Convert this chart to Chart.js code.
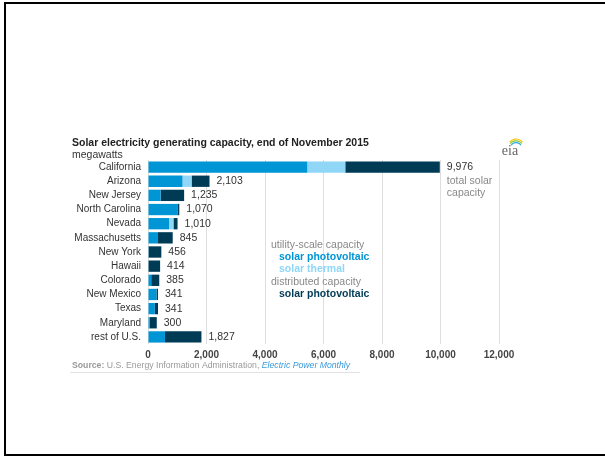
<!DOCTYPE html>
<html>
<head>
<meta charset="utf-8">
<script src="https://cdn.jsdelivr.net/npm/chart.js@4"></script>
<style>
  html, body { margin: 0; padding: 0; background: #fff; }
  #wrap { position: relative; width: 605px; height: 457px; }
</style>
</head>
<body>
<div id="wrap"><canvas id="solarChart" width="605" height="457"></canvas></div>
<script>
// data (megawatts)
const states = ["California", "Arizona", "New Jersey", "North Carolina", "Nevada", "Massachusetts",
  "New York", "Hawaii", "Colorado", "New Mexico", "Texas", "Maryland", "rest of U.S."];
const utilityPV = [5445, 1180, 433, 1005, 720, 320, 25, 20, 110, 290, 235, 60, 580];
const utilityThermal = [1300, 310, 0, 0, 150, 0, 0, 0, 0, 0, 0, 0, 0];
const distributedPV = [3231, 613, 802, 65, 140, 525, 431, 394, 275, 51, 106, 240, 1247];
const totalLabels = ["9,976", "2,103", "1,235", "1,070", "1,010", "845", "456", "414", "385", "341", "341", "300", "1,827"];
const xTicks = [0, 2000, 4000, 6000, 8000, 10000, 12000];

const FONT = "'Liberation Sans', Arial, sans-serif";

// text around the chart
const extras = {
  id: "extras",
  beforeDraw(chart) {
    const c = chart.ctx;
    c.save();
    c.fillStyle = "#fff";
    c.fillRect(0, 0, chart.width, chart.height);
    // frame
    c.fillStyle = "#000";
    c.fillRect(4, 2, 601, 2);
    c.fillRect(4, 2, 2, 454);
    c.fillRect(4, 454, 601, 2);
    c.restore();
  },
  afterDatasetsDraw(chart) {
    const c = chart.ctx;
    const xs = chart.scales.x, ys = chart.scales.y;
    c.save();
    c.textBaseline = "middle";
    c.textAlign = "left";

    // totals
    c.font = "10.5px " + FONT;
    c.fillStyle = "#333";
    states.forEach((s, i) => {
      const tot = utilityPV[i] + utilityThermal[i] + distributedPV[i];
      c.fillText(totalLabels[i], xs.getPixelForValue(tot) + 7, ys.getPixelForValue(i));
    });
    const calX = xs.getPixelForValue(utilityPV[0] + utilityThermal[0] + distributedPV[0]) + 7;
    c.fillStyle = "#888";
    c.fillText("total solar", calX, 181);
    c.fillText("capacity", calX, 193);

    // title
    c.fillStyle = "#222";
    c.font = "bold 10.5px " + FONT;
    c.fillText("Solar electricity generating capacity, end of November 2015", 72, 143);
    c.font = "10.5px " + FONT;
    c.fillStyle = "#333";
    c.fillText("megawatts", 72, 155);

    // legend
    c.font = "10.5px " + FONT;
    c.fillStyle = "#888";
    c.fillText("utility-scale capacity", 271, 245);
    c.fillText("distributed capacity", 271, 282);
    c.font = "bold 10.5px " + FONT;
    c.fillStyle = "#0096d6";
    c.fillText("solar photovoltaic", 279, 257);
    c.fillStyle = "#8fd6f7";
    c.fillText("solar thermal", 279, 269);
    c.fillStyle = "#003b56";
    c.fillText("solar photovoltaic", 279, 294);

    // source
    c.font = "bold 8.7px " + FONT;
    c.fillStyle = "#999";
    c.fillText("Source:", 72, 366);
    let x = 72 + c.measureText("Source: ").width;
    c.font = "8.7px " + FONT;
    const src = "U.S. Energy Information Administration, ";
    c.fillText(src, x, 366);
    x += c.measureText(src).width;
    c.font = "italic 8.7px " + FONT;
    c.fillStyle = "#3a9ad9";
    c.fillText("Electric Power Monthly", x, 366);
    c.fillStyle = "#e2e2e2";
    c.fillRect(70, 372, 290, 1);

    // eia logo
    c.lineWidth = 1.2;
    [["#f5c400", 6], ["#8cc63f", 5], ["#2aa8e0", 4]].forEach(([col, r], k) => {
      c.strokeStyle = col;
      c.beginPath();
      c.arc(516, 147 + k * 0.8, r + 2, Math.PI * 1.2, Math.PI * 1.8);
      c.stroke();
    });
    c.font = "14px 'Liberation Serif', 'DejaVu Serif', serif";
    c.fillStyle = "#666";
    c.textAlign = "center";
    c.fillText("eia", 510, 151);
    c.restore();
  }
};

new Chart(document.getElementById("solarChart"), {
  type: "bar",
  data: {
    labels: states,
    datasets: [
      { label: "utility-scale solar photovoltaic", data: utilityPV, backgroundColor: "#0096d6" },
      { label: "utility-scale solar thermal", data: utilityThermal, backgroundColor: "#8fd6f7" },
      { label: "distributed solar photovoltaic", data: distributedPV, backgroundColor: "#003b56" }
    ]
  },
  options: {
    indexAxis: "y",
    responsive: false,
    animation: false,
    devicePixelRatio: 1,
    layout: { padding: { top: 160, left: 0, right: 106, bottom: 93 } },
    datasets: { bar: { barPercentage: 0.8, categoryPercentage: 1, borderWidth: 0 } },
    plugins: { legend: { display: false }, tooltip: { enabled: false } },
    scales: {
      x: {
        stacked: true,
        min: 0,
        max: 12000,
        afterBuildTicks: s => { s.ticks = xTicks.map(v => ({ value: v })); },
        afterFit: s => { s.height = 20; },
        grid: { color: "#dedede", drawTicks: false },
        border: { display: false },
        ticks: {
          padding: 5,
          color: "#444",
          font: { family: FONT, size: 10, weight: "bold" },
          callback: v => v.toLocaleString("en-US")
        }
      },
      y: {
        stacked: true,
        afterFit: s => { s.width = 148; },
        grid: { display: false, drawTicks: false },
        border: { display: false },
        ticks: {
          autoSkip: false,
          padding: 7,
          color: "#333",
          font: { family: FONT, size: 10 }
        }
      }
    }
  },
  plugins: [extras]
});
</script>
</body>
</html>
